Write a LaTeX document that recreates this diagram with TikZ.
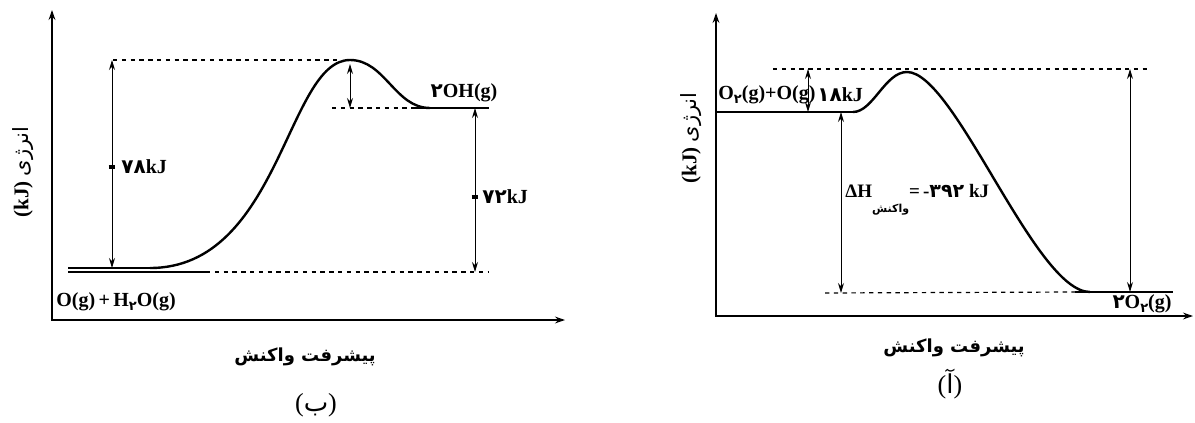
\documentclass[tikz,border=0pt]{standalone}
\usepackage{fontspec}
\setmainfont{Liberation Serif}
\newfontfamily\fafont[Script=Arabic]{DejaVu Sans}
\TeXXeTstate=1
\usepackage{tikz}
\usetikzlibrary{arrows.meta}
\newcommand{\fa}[1]{{\fafont #1}}
\newcommand{\lowdig}[1]{\raisebox{-0.45ex}{\fontsize{6.5}{7}\selectfont\fafont #1}}

\begin{document}
\begin{tikzpicture}[x=0.5pt, y=-0.5pt,
  every node/.style={inner sep=0pt},
  lbl/.style={font=\bfseries\fontsize{10}{12}\selectfont},
  falbl/.style={font=\fafont\bfseries\fontsize{9}{11}\selectfont},
  axis/.style={line width=1pt, {Stealth[length=5pt,width=3.4pt]}-{Stealth[length=5pt,width=3.4pt]}},
  curve/.style={line width=1.2pt},
  lvl/.style={line width=1.3pt},
  guide/.style={line width=0.6pt, dash pattern=on 2.2pt off 2.2pt},
  dim/.style={line width=0.5pt, {Stealth[length=5pt,width=3pt]}-{Stealth[length=5pt,width=3pt]}},
  tick/.style={line width=1.6pt}
]
  \useasboundingbox (0,0) rectangle (1195,423);
  % ---- diagram (b), left ----
  \coordinate (bY) at (52,10);   \coordinate (bO) at (52,320);  \coordinate (bX) at (565,320);
  \draw[axis] (bY) -- (bO) -- (bX);
  \coordinate (bR0) at (68,268);  \coordinate (bR1) at (160,268);
  \coordinate (bL0) at (68,272);  \coordinate (bL1) at (206,272);  \coordinate (bL2) at (489,272);
  \coordinate (bT) at (350,60);   \coordinate (bP0) at (414,108);  \coordinate (bP1) at (489,108);
  \draw[lvl] (bR0) -- (bR1);
  \draw[line width=0.8pt] (bL0) -- (bL1);
  \draw[guide] (bL1) -- (bL2);
  \draw[curve] (150,268) .. controls (280,268) and (287,60) .. (bT)
               .. controls (385,60) and (395,108) .. (430,108);
  \draw[lvl] (bP0) -- (bP1);
  \coordinate (bG0) at (113,60);  \coordinate (bG1) at (340,60);
  \draw[guide] (bG0) -- (bG1);
  \coordinate (bG2) at (332,108);
  \draw[guide] (bG2) -- (bP0);
  % energy arrows
  \coordinate (e78a) at (112,60);   \coordinate (e78b) at (112,268);
  \draw[dim] (e78a) -- (e78b);
  \coordinate (t78) at (112,167);
  \draw[tick] ([xshift=-1.7pt]t78) -- ([xshift=1.7pt]t78);
  \node[lbl, anchor=west] (l78) at (121,167) {\fa{۷۸}kJ};
  \coordinate (ea0) at (350,64);    \coordinate (ea1) at (350,108);
  \draw[dim] (ea0) -- (ea1);
  \coordinate (e72a) at (475,108);  \coordinate (e72b) at (475,272);
  \draw[dim] (e72a) -- (e72b);
  \coordinate (t72) at (475,197);
  \draw[tick] ([xshift=-1.7pt]t72) -- ([xshift=1.7pt]t72);
  \node[lbl, anchor=west] (l72) at (482,197) {\fa{۷۲}kJ};
  % species
  \node[lbl] (prodb) at (464,93) {\fa{۲}OH(g)};
  \node[lbl, anchor=west] (reacb) at (56,302) {O(g)\,+\,H\lowdig{۲}O(g)};
  % axis titles
  \node[rotate=90, font=\fontsize{10.5}{12}\selectfont] (yb) at (23,172)
       {\textbf{(kJ)}\ {\fafont\beginR انرژی\endR}};
  \node[falbl] (xb) at (305,357) {\beginR پیشرفت واکنش\endR};
  \node[font=\fontsize{13}{15}\selectfont] (capb) at (316,405) {(\fa{ب})};

  % ---- diagram (a), right ----
  \coordinate (aY) at (716,13);   \coordinate (aO) at (716,316);  \coordinate (aX) at (1193,316);
  \draw[axis] (aY) -- (aO) -- (aX);
  \coordinate (aR1) at (853,112); \coordinate (aT) at (907,72);
  \coordinate (aP0) at (1075,292); \coordinate (aP1) at (1173,292);
  \draw[lvl] (716,112) -- (aR1);
  \draw[curve] (aR1) .. controls (873,112) and (885,72) .. (aT)
               .. controls (955,72) and (1035,292) .. (1090,292);
  \draw[lvl] (aP0) -- (aP1);
  \coordinate (aG0) at (773,69);  \coordinate (aG1) at (1148,69);
  \draw[guide] (aG0) -- (aG1);
  \coordinate (aG2) at (825,293);
  \draw[guide] (aG2) -- (aP0);
  % energy arrows
  \coordinate (e18a) at (808,69);   \coordinate (e18b) at (808,112);
  \draw[dim] (e18a) -- (e18b);
  \node[lbl, anchor=west] (l18) at (817,95) {\fa{۱۸}kJ};
  \coordinate (dHa) at (841,112);   \coordinate (dHb) at (841,293);
  \draw[dim] (dHa) -- (dHb);
  \node[lbl, font=\bfseries\fontsize{9.5}{11}\selectfont, anchor=west] (ldH) at (845,200)
       {ΔH\raisebox{-1.7ex}{\fontsize{5.5}{6}\selectfont\fafont\beginR واکنش\endR}=\,-\fa{۳۹۲} kJ};
  \coordinate (eEa) at (1130,69);   \coordinate (eEb) at (1130,292);
  \draw[dim] (eEa) -- (eEb);
  % species
  \node[lbl, anchor=west] (reaca) at (718,95) {O\lowdig{۲}(g)+O(g)};
  \node[lbl] (proda) at (1142,304) {\fa{۲}O\lowdig{۲}(g)};
  % axis titles
  \node[rotate=90, font=\fontsize{10.5}{12}\selectfont] (ya) at (691,138)
       {\textbf{(kJ)}\ {\fafont\beginR انرژی\endR}};
  \node[falbl] (xa) at (954,348) {\beginR پیشرفت واکنش\endR};
  \node[font=\fontsize{13}{15}\selectfont] (capa) at (950,384) {(\fa{آ})};
\end{tikzpicture}
\end{document}
